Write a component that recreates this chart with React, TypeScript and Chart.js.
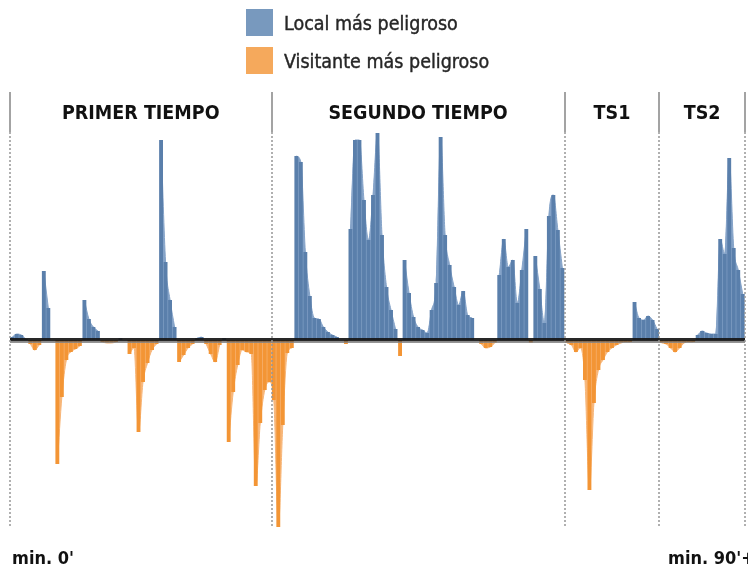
import React, { useEffect, useRef } from "react";
import { Chart, registerables } from "chart.js";

Chart.register(...registerables);

// ---------- data ----------
const periodNames = ["PRIMER TIEMPO", "SEGUNDO TIEMPO", "TS1", "TS2"];
const periodBars = [58, 65, 21, 19];
const legendLabels = ["Local más peligroso", "Visitante más peligroso"];
const axisLabels = ["min. 0'", "min. 90'+"];

const localValues = [
  3, 6, 5, 1, 0, 0, 0, 69, 32, 0,
  0, 0, 0, 0, 0, 0, 40, 21, 13, 9,
  0, 0, 0, 0, 2, 0, 0, 0, 0, 0,
  0, 0, 0, 200, 78, 40, 13, 0, 0, 0,
  0, 2, 3, 0, 0, 0, 0, 2, 0, 0,
  0, 0, 0, 0, 0, 0, 0, 0, 0, 0,
  0, 0, 0, 184, 178, 88, 44, 22, 21, 13,
  8, 5, 3, 0, 0, 111, 200, 200, 140, 100,
  145, 207, 105, 53, 30, 11, 0, 80, 47, 23,
  13, 10, 7, 30, 57, 203, 105, 75, 53, 35,
  49, 25, 22, 0, 0, 0, 0, 0, 65, 101,
  73, 80, 37, 70, 111, 0, 84, 51, 17, 124,
  145, 110, 72, 0, 0, 0, 0, 0, 0, 0,
  0, 0, 0, 0, 0, 0, 0, 0, 38, 22,
  20, 24, 20, 11, 0, 0, 0, 0, 0, 0,
  0, 0, 5, 9, 7, 6, 6, 101, 86, 182,
  92, 70, 46,
];

const visitanteValues = [
  0, 0, 0, 0, -4, -10, -5, 0, 0, 0,
  -124, -57, -20, -12, -9, -6, 0, 0, 0, 0,
  -2, -3, -3, -2, 0, 0, -14, -8, -92, -42,
  -23, -10, -4, 0, 0, 0, 0, -22, -15, -8,
  -4, 0, 0, -4, -14, -22, -5, 0, -102, -52,
  -25, -10, -12, -14, -146, -83, -50, -42, -60, -187,
  -85, -13, -8, 0, 0, 0, 0, 0, 0, 0,
  0, 0, 0, 0, -4, 0, 0, 0, 0, 0,
  0, 0, 0, 0, 0, 0, -16, 0, 0, 0,
  0, 0, 0, 0, 0, 0, 0, 0, 0, 0,
  0, 0, 0, 0, -4, -8, -7, -3, 0, 0,
  0, 0, 0, 0, 0, -3, 0, 0, 0, 0,
  0, 0, 0, -3, -5, -12, -8, -40, -150, -63,
  -30, -20, -12, -8, -5, -3, -2, -2, 0, 0,
  0, 0, 0, 0, -3, -4, -8, -12, -8, -3,
  -2, -2, 0, 0, 0, 0, 0, 0, 0, 0,
  0, 0, 0,
];

const barLabels = localValues.map((_, i) => String(i + 1));

// ---------- layout ----------
const W = 748;
const H = 564;
const PLOT_LEFT = 10;
const PLOT_RIGHT = 745;
const PLOT_TOP = 132;
const PLOT_BOTTOM = 528;
const Y_MIN = -188;
const Y_MAX = 208;

const FONT = '"DejaVu Sans Condensed", "DejaVu Sans", sans-serif';

const sectionPlugin = {
  id: "sections",
  afterDatasetsDraw(chart: any) {
    const { ctx, chartArea, scales } = chart;
    const xs = scales.x;
    const ys = scales.y;
    const y0 = ys.getPixelForValue(0);
    ctx.save();
    ctx.fillStyle = "rgba(22,22,22,0.92)";
    ctx.fillRect(chartArea.left, y0 - 2, chartArea.right - chartArea.left, 3.5);
    ctx.fillStyle = "rgba(130,130,130,0.85)";
    ctx.fillRect(chartArea.left, y0 + 1.5, chartArea.right - chartArea.left, 1.5);
    const bounds = [0];
    let acc = 0;
    periodBars.forEach((n) => {
      acc += n;
      bounds.push(acc);
    });
    bounds.forEach((b) => {
      const px = Math.round(xs.getPixelForValue(b - 0.5));
      ctx.fillStyle = "#a3a3a3";
      ctx.fillRect(px - 1, 92, 2, chartArea.top - 92);
      ctx.strokeStyle = "#969696";
      ctx.lineWidth = 1.5;
      ctx.setLineDash([2, 2]);
      ctx.beginPath();
      ctx.moveTo(px, chartArea.top);
      ctx.lineTo(px, chartArea.bottom);
      ctx.stroke();
    });
    ctx.restore();
  },
};

export default function App() {
  const ref = useRef<HTMLCanvasElement | null>(null);

  useEffect(() => {
    if (!ref.current) return;
    const localArea = localValues.map((v) => (v === 0 ? null : v));
    const visitArea = visitanteValues.map((v) => (v === 0 ? null : v));
    const chart = new Chart(ref.current, {
      type: "bar",
      data: {
        labels: barLabels,
        datasets: [
          {
            type: "bar",
            label: legendLabels[0],
            data: localValues,
            backgroundColor: "#5a7fab",
            borderWidth: 0,
            barPercentage: 0.86,
            categoryPercentage: 1,
            order: 1,
          },
          {
            type: "bar",
            label: legendLabels[1],
            data: visitanteValues,
            backgroundColor: "#f39535",
            borderWidth: 0,
            barPercentage: 0.86,
            categoryPercentage: 1,
            order: 1,
          },
          {
            type: "line",
            label: legendLabels[0] + " área",
            data: localArea,
            backgroundColor: "#85a3c8",
            borderColor: "#85a3c8",
            borderWidth: 1,
            pointRadius: 0,
            fill: "origin",
            spanGaps: false,
            cubicInterpolationMode: "monotone",
            order: 2,
          },
          {
            type: "line",
            label: legendLabels[1] + " área",
            data: visitArea,
            backgroundColor: "#f7b679",
            borderColor: "#f7b679",
            borderWidth: 1,
            pointRadius: 0,
            fill: "origin",
            spanGaps: false,
            cubicInterpolationMode: "monotone",
            order: 2,
          },
        ],
      } as any,
      options: {
        animation: false,
        responsive: false,
        devicePixelRatio: 1,
        layout: {
          padding: {
            left: PLOT_LEFT,
            right: W - PLOT_RIGHT,
            top: PLOT_TOP,
            bottom: H - PLOT_BOTTOM,
          },
        },
        scales: {
          x: { display: false, stacked: true, grid: { display: false } },
          y: { display: false, stacked: false, min: Y_MIN, max: Y_MAX, grid: { display: false } },
        },
        plugins: {
          legend: { display: false },
          tooltip: { enabled: false },
        },
      } as any,
      plugins: [sectionPlugin],
    });
    return () => chart.destroy();
  }, []);

  const total = periodBars.reduce((a, b) => a + b, 0);
  const step = (PLOT_RIGHT - PLOT_LEFT) / total;
  let start = 0;
  const centers = periodBars.map((n) => {
    const c = PLOT_LEFT + (start + n / 2) * step;
    start += n;
    return c;
  });

  const legendColors = ["#7899be", "#f5a95c"];
  const legendTops = [9, 47];

  return (
    <div
      style={{
        position: "absolute",
        left: 0,
        top: 0,
        width: W,
        height: H,
        background: "#ffffff",
        overflow: "hidden",
      }}
    >
      <canvas ref={ref} width={W} height={H} style={{ position: "absolute", left: 0, top: 0 }} />
      {legendLabels.map((t, i) => (
        <React.Fragment key={t}>
          <div
            style={{
              position: "absolute",
              left: 246,
              top: legendTops[i],
              width: 27,
              height: 27,
              background: legendColors[i],
            }}
          />
          <div
            style={{
              position: "absolute",
              left: 284,
              top: legendTops[i] + 5,
              fontFamily: FONT,
              fontStretch: "condensed",
              fontSize: 19.5,
              lineHeight: "19.5px",
              color: "#262626",
              WebkitTextStroke: "0.4px #262626",
              whiteSpace: "nowrap",
            }}
          >
            {t}
          </div>
        </React.Fragment>
      ))}
      {periodNames.map((t, i) => (
        <div
          key={t}
          style={{
            position: "absolute",
            left: centers[i],
            top: 103,
            transform: "translateX(-50%)",
            fontFamily: FONT,
            fontStretch: "condensed",
            fontWeight: "bold",
            fontSize: 19.5,
            lineHeight: "19.5px",
            color: "#111",
            whiteSpace: "nowrap",
          }}
        >
          {t}
        </div>
      ))}
      <div
        style={{
          position: "absolute",
          left: 12,
          top: 549,
          fontFamily: FONT,
          fontStretch: "condensed",
          fontWeight: "bold",
          fontSize: 18,
          lineHeight: "18px",
          color: "#111",
          whiteSpace: "nowrap",
        }}
      >
        {axisLabels[0]}
      </div>
      <div
        style={{
          position: "absolute",
          left: 668,
          top: 549,
          fontFamily: FONT,
          fontStretch: "condensed",
          fontWeight: "bold",
          fontSize: 18,
          lineHeight: "18px",
          color: "#111",
          whiteSpace: "nowrap",
        }}
      >
        {axisLabels[1]}
      </div>
    </div>
  );
}
